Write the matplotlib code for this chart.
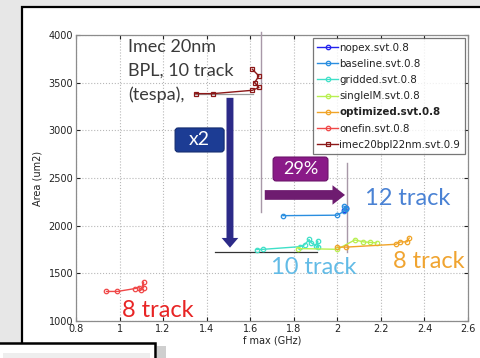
import matplotlib
matplotlib.use("Agg")
import matplotlib.pyplot as plt
from matplotlib.patches import Rectangle, FancyArrowPatch, FancyBboxPatch

# ---- data -------------------------------------------------------------
series_names = ["nopex.svt.0.8", "baseline.svt.0.8", "gridded.svt.0.8",
                "singleIM.svt.0.8", "optimized.svt.0.8", "onefin.svt.0.8",
                "imec20bpl22nm.svt.0.9"]

nopex_f = [2.03, 2.04]
nopex_a = [2165, 2185]

baseline_f = [1.75, 2.00, 2.03, 2.04, 2.04, 2.03]
baseline_a = [2105, 2110, 2150, 2170, 2190, 2205]

gridded_f = [1.63, 1.66, 1.83, 1.85, 1.87, 1.88, 1.90, 1.91, 1.91]
gridded_a = [1750, 1752, 1780, 1800, 1855, 1820, 1790, 1840, 1775]

singleim_f = [1.82, 2.00, 2.08, 2.12, 2.15, 2.18]
singleim_a = [1760, 1752, 1850, 1830, 1825, 1820]

optimized_f = [2.00, 2.04, 2.27, 2.29, 2.32, 2.33]
optimized_a = [1775, 1775, 1805, 1830, 1830, 1870]

onefin_f = [0.94, 0.99, 1.07, 1.09, 1.10, 1.11, 1.11]
onefin_a = [1310, 1310, 1340, 1350, 1330, 1410, 1350]

imec_f = [1.35, 1.43, 1.61, 1.64, 1.62, 1.64, 1.61]
imec_a = [3385, 3385, 3420, 3450, 3500, 3570, 3640]

x_ticks = [0.8, 1, 1.2, 1.4, 1.6, 1.8, 2, 2.2, 2.4, 2.6]
x_tick_labels = ["0.8", "1", "1.2", "1.4", "1.6", "1.8", "2", "2.2", "2.4", "2.6"]
y_ticks = [1000, 1500, 2000, 2500, 3000, 3500, 4000]

colors = ["#2222ee", "#2a8ee0", "#3fe0c8", "#b8f050", "#f0a428", "#f04848", "#8c1818"]
markers = ["o", "o", "o", "o", "o", "o", "s"]

# ---- figure / slide frame ----------------------------------------------
W, H = 481, 358
fig = plt.figure(figsize=(W / 100, H / 100), dpi=100, facecolor="#e7e7e7")


def fig_rect(x0, y0, x1, y1, **kw):
    """Rectangle given in pixel coords (origin top-left)."""
    r = Rectangle((x0 / W, 1 - y1 / H), (x1 - x0) / W, (y1 - y0) / H,
                  transform=fig.transFigure, **kw)
    fig.add_artist(r)
    return r


fig_rect(22, 7, 490, 370, facecolor="white", edgecolor="black", lw=1.6, zorder=0)

ax = fig.add_axes([76 / W, 1 - 321 / H, (468 - 76) / W, (321 - 35) / H])
ax.set_zorder(1)
ax.set_facecolor("white")

# ---- series ------------------------------------------------------------
all_f = [nopex_f, baseline_f, gridded_f, singleim_f, optimized_f, onefin_f, imec_f]
all_a = [nopex_a, baseline_a, gridded_a, singleim_a, optimized_a, onefin_a, imec_a]
handles = []
for name, f, a, c, m in zip(series_names, all_f, all_a, colors, markers):
    h, = ax.plot(f, a, "-", marker=m, color=c, lw=1.0, ms=3.2,
                 mfc="none", mew=0.9, label=name, zorder=4)
    handles.append(h)

ax.set_xlim(0.8, 2.6)
ax.set_ylim(1000, 4000)
ax.set_xticks(x_ticks)
ax.set_xticklabels(x_tick_labels)
ax.set_yticks(y_ticks)
ax.tick_params(direction="in", length=3, labelsize=7, colors="#222222",
               top=True, right=True, pad=2)
ax.grid(True, ls=":", color="#b8b8b8", lw=0.8)
for s in ax.spines.values():
    s.set_color("#8c8c8c")
    s.set_linewidth(0.9)
ax.set_xlabel("f max (GHz)", fontsize=7, labelpad=1, color="#222222")
ax.set_ylabel("Area (um2)", fontsize=7, labelpad=4, color="#222222")

leg = ax.legend(handles=handles, loc="upper right", fontsize=7.4,
                frameon=True, fancybox=False, edgecolor="#555555",
                handlelength=2.0, handletextpad=0.15, labelspacing=0.6,
                borderpad=0.45, borderaxespad=0.3)
leg.get_frame().set_linewidth(0.9)
leg.set_zorder(6)
for t in leg.get_texts():
    t.set_color("#222222")
    if t.get_text() == "optimized.svt.0.8":
        t.set_fontweight("bold")

# ---- annotation lines --------------------------------------------------
ax.plot([1.65, 1.65], [2145, 4030], color="#a898a8", lw=1.0, clip_on=False, zorder=3)
ax.plot([2.045, 2.045], [1724, 2657], color="#a898a8", lw=1.0, zorder=3)
ax.plot([1.438, 1.907], [1724, 1724], color="#333333", lw=0.9, zorder=3)
ax.plot([1.346, 1.613], [3381, 3381], color="#999999", lw=0.9, zorder=3)

# ---- arrows ------------------------------------------------------------
ax.add_patch(FancyArrowPatch((1.507, 3370), (1.507, 1740),
             arrowstyle="simple,tail_width=5,head_width=12,head_length=7",
             color="#2c2a88", lw=0, zorder=5))
ax.add_patch(FancyArrowPatch((1.654, 2322), (2.048, 2322),
             arrowstyle="simple,tail_width=7,head_width=14,head_length=9",
             color="#6e1c70", lw=0, zorder=5))

# ---- labelled boxes ----------------------------------------------------
aspect = (3000 / 286) / (1.8 / 392)   # data units per pixel, y over x


def label_box(x0, x1, y0, y1, text, fc, ec, size):
    box = FancyBboxPatch((x0, y0), x1 - x0, y1 - y0,
                         boxstyle="round,pad=0,rounding_size=0.014",
                         mutation_aspect=aspect, fc=fc, ec=ec, lw=0.8, zorder=7)
    ax.add_patch(box)
    ax.text((x0 + x1) / 2, (y0 + y1) / 2, text, ha="center", va="center",
            fontsize=size, color="white", family=["Lato", "DejaVu Sans"], zorder=8)


label_box(1.255, 1.48, 2773, 3025, "x2", "#1c3c94", "#142c70", 14)
label_box(1.705, 1.957, 2469, 2720, "29%", "#8a1a88", "#6a1068", 13)

# ---- text --------------------------------------------------------------
font = ["Lato", "DejaVu Sans"]
ax.text(1.04, 3955, "Imec 20nm\nBPL, 10 track\n(tespa),", ha="left", va="top",
        fontsize=13, color="#3a3a3a", family=font, linespacing=1.58, zorder=5)

ax.text(2.127, 2290, "12 track", ha="left", va="center", fontsize=17,
        color="#4a82d4", family=font, zorder=5)
ax.text(1.694, 1556, "10 track", ha="left", va="center", fontsize=17,
        color="#62bbe6", family=font, zorder=5)
ax.text(2.254, 1622, "8 track", ha="left", va="center", fontsize=17,
        color="#f0a430", family=font, zorder=5)
ax.text(1.01, 1115, "8 track", ha="left", va="center", fontsize=17,
        color="#e82424", family=font, zorder=5)

# ---- lower-left slide box ---------------------------------------------
fig_rect(157, 346, 166, 370, facecolor="#cfcfcf", edgecolor="none", zorder=8)
fig_rect(-5, 343, 155, 370, facecolor="white", edgecolor="black", lw=1.8, zorder=9)
fig_rect(3, 353, 150, 370, facecolor="#eeeeee", edgecolor="none", zorder=10)

fig.savefig("out.png", dpi=100, facecolor=fig.get_facecolor())
